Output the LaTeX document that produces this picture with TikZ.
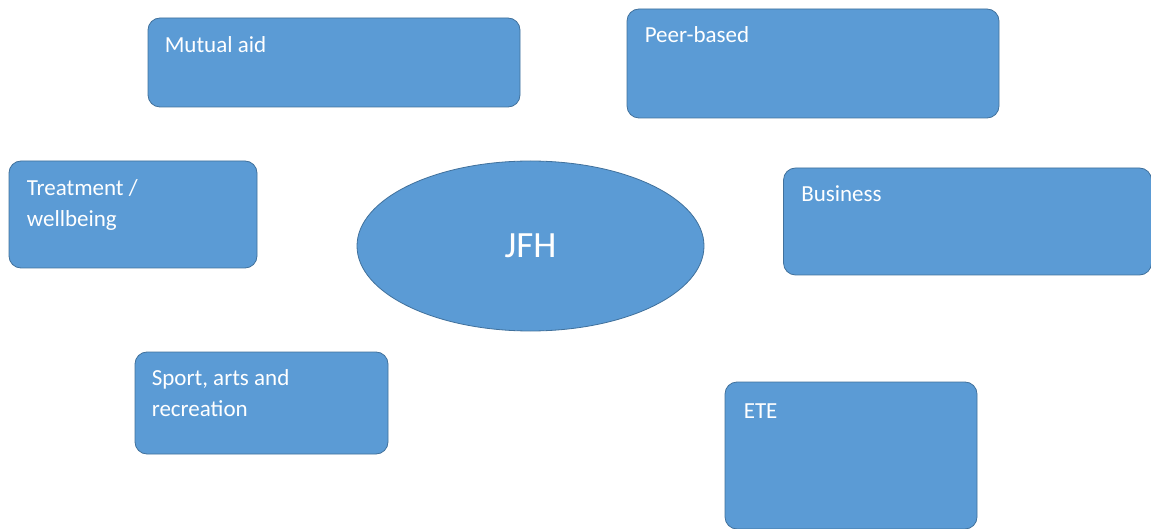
\documentclass[tikz,border=0pt]{standalone}
\usepackage{fontspec}
\setmainfont{Carlito}
\usepackage{xcolor}
\usetikzlibrary{positioning,shapes.geometric}

\definecolor{boxblue}{HTML}{5B9BD5}
\definecolor{boxedge}{HTML}{41719C}

\tikzset{
  topicbox/.style={draw=boxedge, fill=boxblue, line width=0.8pt,
    rounded corners=12pt, inner sep=0pt},
  topictext/.style={text=white, inner sep=0pt, align=left,
    font=\fontsize{23}{31}\selectfont},
}

\begin{document}
\begin{tikzpicture}[x=1pt, y=-1pt]
      \useasboundingbox (0, 0) rectangle (1151, 529);

      \coordinate (M) at (334, 62.5);
      \coordinate (P) at (813, 63.5);
      \coordinate (T) at (133, 214.5);
      \coordinate (B) at (967.5, 221.5);
      \coordinate (S) at (261.5, 403);
      \coordinate (E) at (851, 455.5);
      \coordinate (J) at (530.5, 246);

      \node [topicbox, minimum width=372pt, minimum height=89pt] (mutual) at (M) {};
      \node [topicbox, minimum width=372pt, minimum height=109pt] (peer) at (P) {};
      \node [topicbox, minimum width=248pt, minimum height=107pt] (treat) at (T) {};
      \node [topicbox, minimum width=368pt, minimum height=107pt] (business) at (B) {};
      \node [topicbox, minimum width=253pt, minimum height=102pt] (sport) at (S) {};
      \node [topicbox, minimum width=252pt, minimum height=147pt] (ete) at (E) {};

      \node [ellipse, draw=boxedge, fill=boxblue, line width=0.8pt,
        minimum width=347pt, minimum height=170pt, text=white,
        font=\fontsize{37}{42}\selectfont] (jfh) at (J) {JFH};

      \node [topictext, anchor=north west] at ([xshift=17pt, yshift=-18.5pt]mutual.north west) {Mutual aid};
      \node [topictext, anchor=north west] at ([xshift=18pt, yshift=-17.5pt]peer.north west) {Peer-based};
      \node [topictext, anchor=north west] at ([xshift=18pt, yshift=-18.5pt]treat.north west) {Treatment /\\wellbeing};
      \node [topictext, anchor=north west] at ([xshift=18pt, yshift=-17.5pt]business.north west) {Business};
      \node [topictext, anchor=north west] at ([xshift=17pt, yshift=-17.5pt]sport.north west) {Sport, arts and\\recreation};
      \node [topictext, anchor=north west] at ([xshift=19pt, yshift=-21.5pt]ete.north west) {ETE};
\end{tikzpicture}
\end{document}
